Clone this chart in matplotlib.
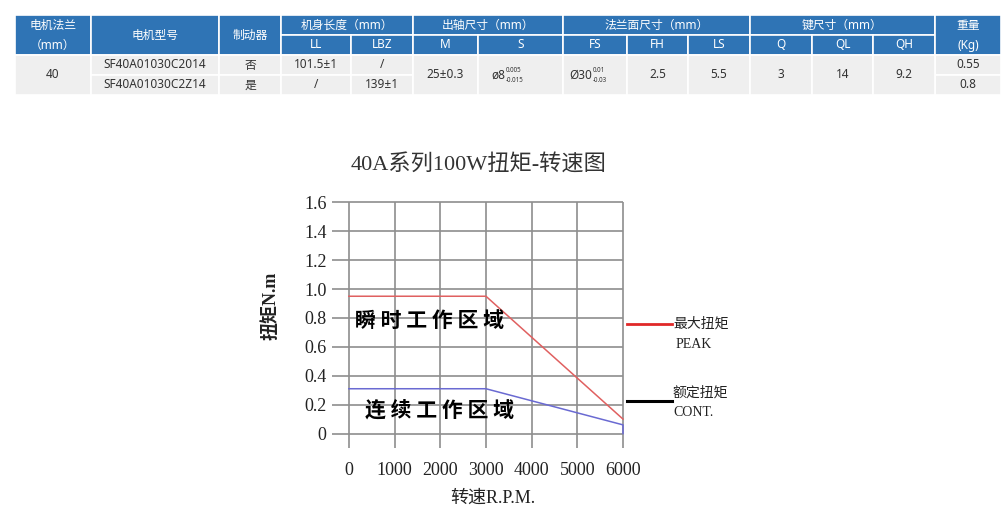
import numpy as np
import matplotlib
matplotlib.use('Agg')
import matplotlib.pyplot as plt
from matplotlib.patches import Rectangle

plt.rcParams['font.family'] = ['Liberation Serif', 'Noto Sans CJK SC']
CJK = ['Noto Sans', 'Noto Sans CJK SC', 'DejaVu Sans']

# ---- table data ----
group_heads = ['机身长度（mm）', '出轴尺寸（mm）', '法兰面尺寸（mm）', '键尺寸（mm）']
sub_heads = ['LL', 'LBZ', 'M', 'S', 'FS', 'FH', 'LS', 'Q', 'QL', 'QH']
flange = '40'
models = ['SF40A01030C2014', 'SF40A01030C2Z14']
brake = ['否', '是']
len_LL = ['101.5±1', '/']
len_LBZ = ['/', '139±1']
shaft_M = '25±0.3'
shaft_S = ['ø8', '0.005', '-0.015']
face_FS = ['Ø30', '0.01', '-0.03']
face_FH = '2.5'
face_LS = '5.5'
key_Q = '3'
key_QL = '14'
key_QH = '9.2'
weight = ['0.55', '0.8']

# ---- chart data ----
speed_peak = [0, 3000, 6000]
torque_peak = [0.95, 0.95, 0.10]
speed_cont = [0, 3000, 6000, 6000]
torque_cont = [0.31, 0.31, 0.06, 0.0]
xticks = [0, 1000, 2000, 3000, 4000, 5000, 6000]
yticks = [0, 0.2, 0.4, 0.6, 0.8, 1.0, 1.2, 1.4, 1.6]

W, H = 1004, 530
fig = plt.figure(figsize=(W/100., H/100.), dpi=100)

# overlay in pixel coordinates for table / legend / title
ov = fig.add_axes([0, 0, 1, 1], zorder=0)
ov.set_xlim(0, W)
ov.set_ylim(H, 0)
ov.axis('off')

blue = '#2f74b5'
body = '#efefef'
txt = '#333333'
edges = [15, 91, 219, 281, 351, 413, 478, 563, 627, 688, 750, 812, 873, 935, 1001]
r0, r1, r2, r3, r4 = 15, 35, 55, 75, 95

def cell(x0, x1, y0, y1, fc, s=None, color=txt, fs=8.5):
    ov.add_patch(Rectangle((x0, y0), x1-x0, y1-y0, fc=fc, ec='white', lw=1.2))
    if s is not None:
        ov.text((x0+x1)/2., (y0+y1)/2., s, ha='center', va='center',
                color=color, fontsize=fs, family=CJK)

# header
cell(edges[0], edges[1], r0, r2, blue)
ov.text((edges[0]+edges[1])/2., 25, '电机法兰', ha='center', va='center', color='white', fontsize=8.5, family=CJK)
ov.text((edges[0]+edges[1])/2., 45, '（mm）', ha='center', va='center', color='white', fontsize=8.5, family=CJK)
cell(edges[1], edges[2], r0, r2, blue, '电机型号', 'white')
cell(edges[2], edges[3], r0, r2, blue, '制动器', 'white')
spans = [(3, 5), (5, 7), (7, 10), (10, 13)]
for (a, b), g in zip(spans, group_heads):
    cell(edges[a], edges[b], r0, r1, blue, g, 'white')
for i, s in enumerate(sub_heads):
    cell(edges[3+i], edges[4+i], r1, r2, blue, s, 'white')
cell(edges[13], edges[14], r0, r2, blue)
ov.text((edges[13]+edges[14])/2., 25, '重量', ha='center', va='center', color='white', fontsize=8.5, family=CJK)
ov.text((edges[13]+edges[14])/2., 45, '(Kg)', ha='center', va='center', color='white', fontsize=8.5, family=CJK)

# body
cell(edges[0], edges[1], r2, r4, body, flange)
for j, (y0, y1) in enumerate([(r2, r3), (r3, r4)]):
    cell(edges[1], edges[2], y0, y1, body, models[j])
    cell(edges[2], edges[3], y0, y1, body, brake[j])
    cell(edges[3], edges[4], y0, y1, body, len_LL[j])
    cell(edges[4], edges[5], y0, y1, body, len_LBZ[j])
    cell(edges[13], edges[14], y0, y1, body, weight[j])
cell(edges[5], edges[6], r2, r4, body, shaft_M)
cell(edges[6], edges[7], r2, r4, body)
ov.text(505, 75, shaft_S[0], ha='right', va='center', color=txt, fontsize=8.5, family=CJK)
ov.text(506, 70, shaft_S[1], ha='left', va='center', color=txt, fontsize=4.5, family=CJK)
ov.text(506, 80, shaft_S[2], ha='left', va='center', color=txt, fontsize=4.5, family=CJK)
cell(edges[7], edges[8], r2, r4, body)
ov.text(592, 75, face_FS[0], ha='right', va='center', color=txt, fontsize=8.5, family=CJK)
ov.text(593, 70, face_FS[1], ha='left', va='center', color=txt, fontsize=4.5, family=CJK)
ov.text(593, 80, face_FS[2], ha='left', va='center', color=txt, fontsize=4.5, family=CJK)
for k, s in zip(range(8, 13), [face_FH, face_LS, key_Q, key_QL, key_QH]):
    cell(edges[k], edges[k+1], r2, r4, body, s)

# title
ov.text(479, 165, '40A系列100W扭矩-转速图', ha='center', va='center',
        fontsize=16, color='#333333')

# legend (drawn by hand like the source picture)
ov.plot([627, 672], [324, 324], color='#e02828', lw=2)
ov.text(673, 324, '最大扭矩', ha='left', va='center', fontsize=10, color='#222222')
ov.text(676, 345, 'PEAK', ha='left', va='center', fontsize=10, color='#222222')
ov.plot([627, 672], [401, 401], color='black', lw=2.2)
ov.text(672, 393, '额定扭矩', ha='left', va='center', fontsize=10, color='#222222')
ov.text(673, 412, 'CONT.', ha='left', va='center', fontsize=10, color='#222222')

# ---- torque-speed chart ----
ax = fig.add_axes([332/W, 1-448/H, (623-332)/W, (448-202.3)/H], zorder=1)
ax.patch.set_alpha(0)
ax.set_xlim(-370, 6000)
ax.set_ylim(-0.1, 1.6)
for sp in ax.spines.values():
    sp.set_visible(False)
gc = '#8e8e8e'
ax.hlines(yticks, -370, 6000, color=gc, lw=1.2, clip_on=False, zorder=1)
ax.vlines(xticks, -0.1, 1.6, color=gc, lw=1.2, clip_on=False, zorder=1)
ax.plot(speed_peak, torque_peak, color='#e06060', lw=1.1, zorder=3, clip_on=False)
ax.plot(speed_cont, torque_cont, color='#6a6ad2', lw=1.1, zorder=3, clip_on=False)

ax.set_xticks(xticks)
ax.set_yticks(yticks)
ax.set_yticklabels(['0' if v == 0 else '%.1f' % v for v in yticks])
ax.tick_params(axis='both', length=0, labelsize=13, colors='#222222')
ax.tick_params(axis='y', pad=4)
ax.tick_params(axis='x', pad=10)

ax.text(1774, 0.78, '瞬 时 工 作 区 域', ha='center', va='center', fontsize=15,
        fontweight='black', family=['Noto Sans CJK SC'], color='black', zorder=4)
ax.text(1993, 0.165, '连 续 工 作 区 域', ha='center', va='center', fontsize=15,
        fontweight='black', family=['Noto Sans CJK SC'], color='black', zorder=4)

ax.set_xlabel('转速R.P.M.', fontsize=13, color='#222222')
ax.xaxis.set_label_coords(0.552, -0.17)
ax.set_ylabel('扭矩N.m', fontsize=13, fontweight='bold', color='#222222')
ax.yaxis.label.set_va('center')
ax.yaxis.set_label_coords(-0.21, 0.58)

fig.savefig('out.png', dpi=100)
